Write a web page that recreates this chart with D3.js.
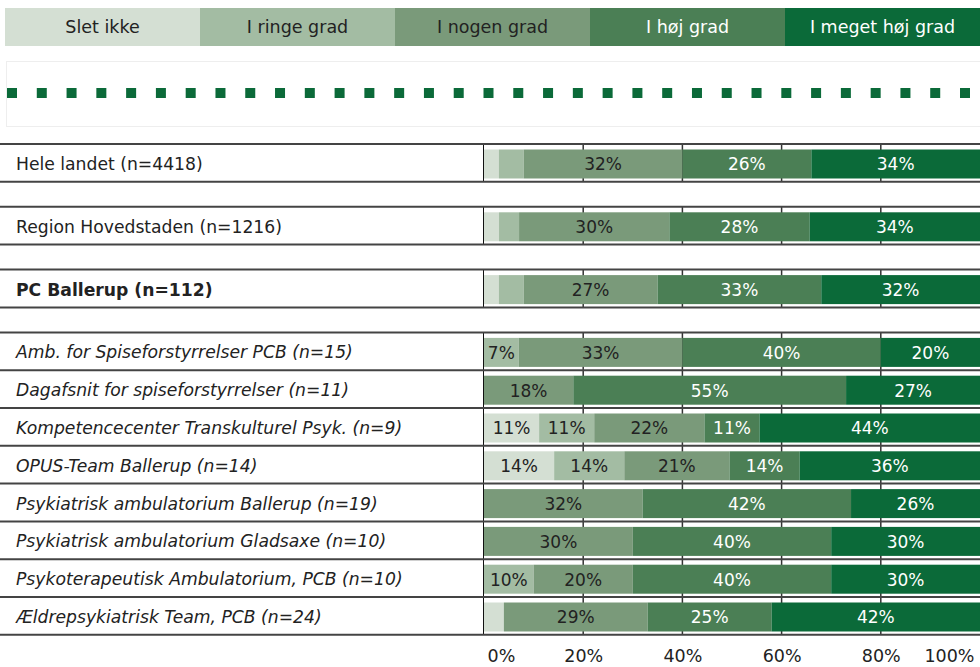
<!DOCTYPE html>
<html>
<head>
<meta charset="utf-8">
<script src="https://cdn.jsdelivr.net/npm/d3@7"></script>
<style>
  body { margin: 0; background: #fff; }
  svg { display: block; font-family: "DejaVu Sans", Verdana, sans-serif; }
</style>
</head>
<body>
<svg id="chart" width="980" height="667"></svg>
<script>
// answer categories (legend order)
var categories = ["Slet ikke", "I ringe grad", "I nogen grad", "I høj grad", "I meget høj grad"];
var colors = ["#d4dfd3", "#a3bca3", "#7a9a7a", "#4b7f55", "#0b6a39"];
var textColors = ["#222", "#222", "#222", "#fff", "#fff"];

// units, one per row
var units = [
  "Hele landet (n=4418)",
  "Region Hovedstaden (n=1216)",
  "PC Ballerup (n=112)",
  "Amb. for Spiseforstyrrelser PCB (n=15)",
  "Dagafsnit for spiseforstyrrelser (n=11)",
  "Kompetencecenter Transkulturel Psyk. (n=9)",
  "OPUS-Team Ballerup (n=14)",
  "Psykiatrisk ambulatorium Ballerup (n=19)",
  "Psykiatrisk ambulatorium Gladsaxe (n=10)",
  "Psykoterapeutisk Ambulatorium, PCB (n=10)",
  "Ældrepsykiatrisk Team, PCB (n=24)"
];
var labelStyle = ["normal", "normal", "bold", "italic", "italic", "italic", "italic", "italic", "italic", "italic", "italic"];

// percent per category, same order as categories
var sletIkke   = [3, 3, 3, 0, 0, 11, 14, 0, 0, 0, 4];
var iRinge     = [5, 4, 5, 7, 0, 11, 14, 0, 0, 10, 0];
var iNogen     = [32, 30, 27, 33, 18, 22, 21, 32, 30, 20, 29];
var iHoej      = [26, 28, 33, 40, 55, 11, 14, 42, 40, 40, 25];
var iMegetHoej = [34, 34, 32, 20, 27, 44, 36, 26, 30, 30, 42];

var ticks = [0, 20, 40, 60, 80, 100];

var svg = d3.select("#chart");

var series = [sletIkke, iRinge, iNogen, iHoej, iMegetHoej];
var rows = units.map(function(u, i) {
  var r = { name: u, idx: i };
  var tot = 0;
  series.forEach(function(s) { tot += s[i]; });
  categories.forEach(function(c, k) { r[c] = series[k][i] / tot * 100; r["raw" + k] = series[k][i]; });
  return r;
});

var stacked = d3.stack().keys(categories)(rows);

var x = d3.scaleLinear().domain([0, 100]).range([484, 980]);
var rowH = 37.8, groupGap = 25, top0 = 144;
function rowTop(i) { return top0 + i * rowH + Math.min(i, 3) * groupGap; }

// legend
var lx = d3.scaleBand().domain(categories).range([5, 980]);
var legend = svg.append("g");
legend.selectAll("rect").data(categories).enter()
  .append("rect")
  .attr("x", function(d) { return lx(d); })
  .attr("y", 8)
  .attr("width", lx.bandwidth() + 0.5)
  .attr("height", 38)
  .attr("fill", function(d, i) { return colors[i]; });
legend.selectAll("text").data(categories).enter()
  .append("text")
  .attr("x", function(d) { return lx(d) + lx.bandwidth() / 2; })
  .attr("y", 27)
  .attr("dy", "0.35em")
  .attr("text-anchor", "middle")
  .attr("font-size", 17.5)
  .attr("fill", function(d, i) { return textColors[i]; })
  .text(function(d) { return d; });

// dotted placeholder strip
svg.append("rect")
  .attr("x", 6.5).attr("y", 61.5).attr("width", 980).attr("height", 65)
  .attr("fill", "none").attr("stroke", "#eee");
var dx = d3.scaleLinear().domain([0, 32]).range([7, 960]);
svg.append("g").selectAll("rect").data(d3.range(33)).enter()
  .append("rect")
  .attr("x", function(d) { return dx(d); })
  .attr("y", 88)
  .attr("width", 10)
  .attr("height", 10)
  .attr("fill", "#0b6a39");

// rows
var rowG = svg.append("g").selectAll("g").data(rows).enter()
  .append("g")
  .attr("transform", function(d) { return "translate(0," + rowTop(d.idx) + ")"; });

// grid lines behind the bars
rowG.selectAll("line.grid").data(ticks.slice(1, 5)).enter()
  .append("line")
  .attr("class", "grid")
  .attr("x1", function(d) { return x(d); })
  .attr("x2", function(d) { return x(d); })
  .attr("y1", 0).attr("y2", rowH)
  .attr("stroke", "#333").attr("stroke-width", 1.5);

rowG.append("line")
  .attr("x1", 483.5).attr("x2", 483.5)
  .attr("y1", 0).attr("y2", rowH)
  .attr("stroke", "#111").attr("stroke-width", 1);

rowG.append("text")
  .attr("x", 16)
  .attr("y", 20)
  .attr("dy", "0.35em")
  .attr("font-size", 17.2)
  .attr("fill", "#222")
  .attr("font-weight", function(d) { return labelStyle[d.idx] == "bold" ? "bold" : "normal"; })
  .attr("font-style", function(d) { return labelStyle[d.idx] == "italic" ? "italic" : "normal"; })
  .text(function(d) { return d.name; });

// bar segments
var segG = svg.append("g").selectAll("g").data(stacked).enter()
  .append("g")
  .attr("fill", function(d, k) { return colors[k]; });

segG.selectAll("rect").data(function(d) { return d; }).enter()
  .append("rect")
  .attr("x", function(d) { return x(d[0]); })
  .attr("y", function(d) { return rowTop(d.data.idx) + 5.5; })
  .attr("width", function(d) { return x(d[1]) - x(d[0]); })
  .attr("height", 29);

segG.selectAll("text").data(function(d, k) {
    return d.map(function(p) { return { p: p, k: k }; });
  }).enter()
  .filter(function(d) { return d.p.data["raw" + d.k] >= 6; })
  .append("text")
  .attr("x", function(d) { return (x(d.p[0]) + x(d.p[1])) / 2; })
  .attr("y", function(d) { return rowTop(d.p.data.idx) + 20.5; })
  .attr("dy", "0.35em")
  .attr("text-anchor", "middle")
  .attr("font-size", 17)
  .attr("fill", function(d) { return textColors[d.k]; })
  .text(function(d) { return d.p.data["raw" + d.k] + "%"; });

// horizontal row borders
var borders = [];
rows.forEach(function(r, i) {
  borders.push(rowTop(i));
  if (i < 3 || i == rows.length - 1) borders.push(rowTop(i) + rowH);
});
svg.append("g").selectAll("line").data(borders).enter()
  .append("line")
  .attr("x1", 0).attr("x2", 980)
  .attr("y1", function(d) { return d; })
  .attr("y2", function(d) { return d; })
  .attr("stroke", "#444").attr("stroke-width", 2);

// x axis
var axis = d3.axisBottom(x)
  .tickValues(ticks)
  .tickSize(0)
  .tickFormat(function(d) { return d + "%"; });
var ax = svg.append("g")
  .attr("transform", "translate(0,647)")
  .call(axis);
ax.select(".domain").remove();
ax.selectAll("text")
  .attr("font-size", 17.5)
  .attr("font-family", "DejaVu Sans, Verdana, sans-serif")
  .attr("fill", "#222");
ax.selectAll(".tick").filter(function(d) { return d == 0; }).select("text")
  .attr("text-anchor", "start").attr("x", 3);
ax.selectAll(".tick").filter(function(d) { return d == 100; }).select("text")
  .attr("text-anchor", "end").attr("x", -6);
</script>
</body>
</html>
